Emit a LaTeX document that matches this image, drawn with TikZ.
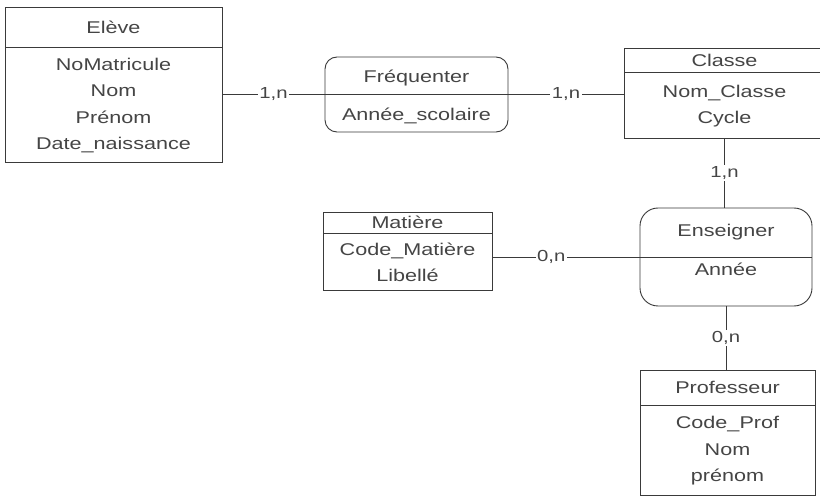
\documentclass[tikz,border=0pt]{standalone}
\usepackage{fontspec}
\setmainfont{Liberation Sans}[FakeStretch=1.27]
\usepackage{xcolor}
\usepackage{tikz}
\usetikzlibrary{positioning,calc}
\definecolor{trait}{HTML}{3A3A3A}
\definecolor{texte}{HTML}{454545}

\begin{document}
\begin{tikzpicture}[
    x=1pt, y=-1pt,
    every node/.style={text=texte, font=\fontsize{17}{26.5}\selectfont},
    entite/.style={draw=trait, line width=0.9pt, inner sep=0pt, align=center},
    assoc/.style={draw=trait, line width=0.9pt, inner sep=0pt, align=center, rounded corners=12pt},
    lien/.style={draw=trait, line width=0.8pt},
    card/.style={fill=white, inner sep=1.5pt, font=\fontsize{16}{18}\selectfont}
]
\clip (0,0) rectangle (820,497);
\fill[white] (0,0) rectangle (820,497);

% entites
\node[entite, minimum width=217pt, minimum height=40pt] (eleve) at (113.5,27) {Elève};
\node[entite, minimum width=217pt, minimum height=115pt, anchor=north] (eleveAttr) at (eleve.south) {NoMatricule\\Nom\\Prénom\\Date\_naissance};

\node[entite, minimum width=201pt, minimum height=24pt] (classe) at (724.5,60) {Classe};
\node[entite, minimum width=201pt, minimum height=66pt, anchor=north] (classeAttr) at (classe.south) {Nom\_Classe\\Cycle};

\node[entite, minimum width=169pt, minimum height=21pt] (matiere) at (407.5,222.5) {Matière};
\node[entite, minimum width=169pt, minimum height=57pt, anchor=north] (matiereAttr) at (matiere.south) {Code\_Matière\\Libellé};

\node[entite, minimum width=175pt, minimum height=35pt] (prof) at (727.5,387.5) {Professeur};
\node[entite, minimum width=175pt, minimum height=90pt, anchor=north] (profAttr) at (prof.south) {Code\_Prof\\Nom\\prénom};

% associations
\node[assoc, minimum width=183pt, minimum height=75pt] (frequenter) at (416.5,94.5) {\raisebox{-6pt}[0pt][0pt]{\begin{tabular}{@{}c@{}}Fréquenter\\[11pt]Année\_scolaire\end{tabular}}};
\draw[lien] (frequenter.west) -- (frequenter.east);
\node[assoc, rounded corners=18pt, minimum width=172pt, minimum height=98pt] (enseigner) at (726,257) {\raisebox{2pt}[0pt][0pt]{\begin{tabular}{@{}c@{}}Enseigner\\[13pt]Année\end{tabular}}};
\draw[lien] (enseigner.west) -- (enseigner.east);

% liens
\draw[lien] (eleveAttr.east |- frequenter.west) -- node[card] {1,n} (frequenter.west);
\draw[lien] (frequenter.east) -- node[card] {1,n} (classeAttr.west |- frequenter.east);
\draw[lien] (classeAttr.south) -- node[card] {1,n} (classeAttr.south |- enseigner.north);
\draw[lien] (matiereAttr.east |- enseigner.west) -- node[card, pos=0.4] {0,n} (enseigner.west);
\draw[lien] (enseigner.south) -- node[card] {0,n} (enseigner.south |- prof.north);
\end{tikzpicture}
\end{document}
